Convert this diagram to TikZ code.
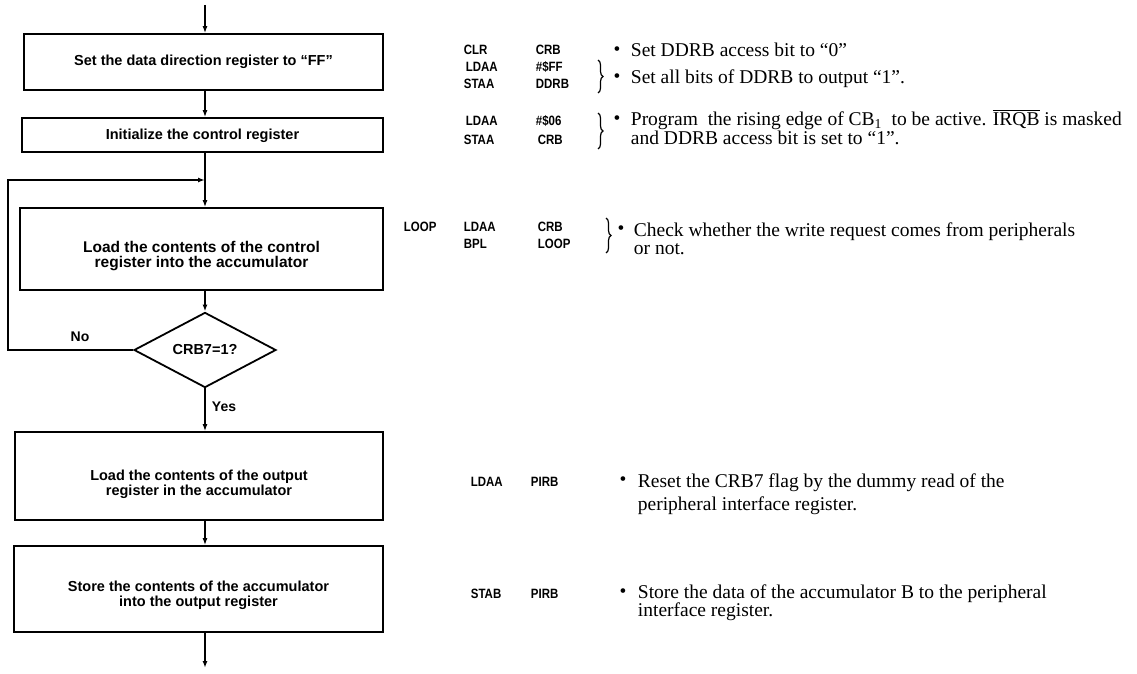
\documentclass[tikz,border=0pt]{standalone}
\usepackage{fontspec}
\setmainfont{Liberation Serif}
\newfontfamily\boxfont{Liberation Sans}
\newfontfamily\codefont{Liberation Sans}[FakeStretch=0.85]
\usetikzlibrary{arrows.meta,shapes.geometric,decorations.pathreplacing,calc}
\begin{document}
\begin{tikzpicture}[x=1pt,y=-1pt,line width=1.8pt,
  flowbox/.style={draw,rectangle,inner sep=0pt},
  boxtext/.style={inner sep=0pt,align=center,
    font=\boxfont\bfseries\fontsize{14.5}{15}\selectfont},
  decision/.style={draw,diamond,inner sep=0pt,
    font=\boxfont\bfseries\fontsize{14.5}{15}\selectfont},
  lbl/.style={inner sep=0pt,font=\boxfont\bfseries\fontsize{14}{15}\selectfont},
  code/.style={inner sep=0pt,anchor=base west,font=\codefont\bfseries\fontsize{13.5}{14}\selectfont},
  note/.style={inner sep=0pt,anchor=base west,align=left,font=\fontsize{19.5}{18}\selectfont},
  dot/.style={inner sep=0pt,font=\fontsize{19.5}{18}\selectfont},
  arr/.style={-{Latex[length=7pt,width=5pt]}},
  bracestyle/.style={decorate,decoration={brace,amplitude=5pt},line width=1.2pt}]
\useasboundingbox (0,0) rectangle (1137,674);
\fill[white] (0,0) rectangle (1137,674);

% flowchart boxes
\node[flowbox,minimum width=359pt,minimum height=56pt] (b1) at (203.5,62) {};
\node[boxtext] (b1t) at (b1.center) {Set the data direction register to “FF”};
\node[flowbox,minimum width=361pt,minimum height=34pt] (b2) at (202.5,135) {};
\node[boxtext] (b2t) at ([yshift=-1pt]b2.center) {Initialize the control register};
\node[flowbox,minimum width=363pt,minimum height=82pt] (b3) at (201.5,249) {};
\node[boxtext,font=\boxfont\bfseries\fontsize{15.5}{15}\selectfont] (b3t) at ([yshift=-7pt]b3.center)
  {Load the contents of the control\\register into the accumulator};
\node[decision,minimum width=142pt,minimum height=56pt] (dia) at (205,350)
  {CRB7=1?};
\node[flowbox,minimum width=368pt,minimum height=88pt] (b4) at (199,476) {};
\node[boxtext] (b4t) at ([yshift=-8pt]b4.center)
  {Load the contents of the output\\register in the accumulator};
\node[flowbox,minimum width=369pt,minimum height=86pt] (b5) at (198.5,589) {};
\node[boxtext] (b5t) at ([yshift=-6pt]b5.center)
  {Store the contents of the accumulator\\into the output register};

\node[lbl] (no) at (80,337) {No};
\node[lbl] (yes) at (224,407) {Yes};

% connectors
\coordinate (axis) at (205,0);
\coordinate (start) at (205,5);
\coordinate (finish) at (205,668);
\coordinate (junc) at (205,180);
\coordinate (corner) at (8,180);
\draw[arr] (start) -- (start |- b1.north);
\draw[arr] (b1.south -| axis) -- (b2.north -| axis);
\draw[arr] (b2.south -| axis) -- (b3.north -| axis);
\draw[arr] (dia.west) -- (dia.west -| corner) -- (corner) -- (junc);
\draw[arr] (b3.south -| axis) -- (dia.north);
\draw[arr] (dia.south) -- (dia.south |- b4.north);
\draw[arr] (b4.south -| axis) -- (b5.north -| axis);
\draw[arr] (b5.south -| axis) -- (finish);

% program listing
\node[code] (c1a) at (463,55) {CLR};
\node[code] (c1b) at (535,55) {CRB};
\node[code] (c2a) at (465,72) {LDAA};
\node[code] (c2b) at (535,72) {\#\$FF};
\node[code] (c3a) at (463,89) {STAA};
\node[code] (c3b) at (535,89) {DDRB};
\coordinate (br1t) at (598,60);
\coordinate (br1b) at (598,93);
\draw[bracestyle] (br1t) -- (br1b);

\node[code] (c4a) at (465,126) {LDAA};
\node[code] (c4b) at (535,126) {\#\$06};
\node[code] (c5a) at (463,144) {STAA};
\node[code] (c5b) at (537,144) {CRB};
\coordinate (br2t) at (598,113);
\coordinate (br2b) at (598,149);
\draw[bracestyle] (br2t) -- (br2b);

\node[code] (c6l) at (403,231) {LOOP};
\node[code] (c6a) at (463,231) {LDAA};
\node[code] (c6b) at (537,231) {CRB};
\node[code] (c7a) at (463,248) {BPL};
\node[code] (c7b) at (537,248) {LOOP};
\coordinate (br3t) at (606,218);
\coordinate (br3b) at (606,253);
\draw[bracestyle] (br3t) -- (br3b);

\node[code] (c8a) at (470,486) {LDAA};
\node[code] (c8b) at (530,486) {PIRB};
\node[code] (c9a) at (470,598) {STAB};
\node[code] (c9b) at (530,598) {PIRB};

% notes
\node[dot] (d1) at (617,51) {\textbullet};
\node[note] (n1) at (630,57) {Set DDRB access bit to “0”};
\node[dot] (d2) at (617,78) {\textbullet};
\node[note] (n2) at (630,84) {Set all bits of DDRB to output “1”.};
\node[dot] (d3) at (617,120) {\textbullet};
\node[note] (n3) at (630,145) {Program\ \ the rising edge of CB\textsubscript{1}\ \ to be active. $\overline{\hbox{IRQB}}$ is masked\\[2pt]and DDRB access bit is set to “1”.};
\node[dot] (d4) at (621,230) {\textbullet};
\node[note] (n4) at (633,254) {Check whether the write request comes from peripherals\\or not.};
\node[dot] (d5) at (623,481) {\textbullet};
\node[note] (n5) at (637,510) {Reset the CRB7 flag by the dummy read of the\\[5pt]peripheral interface register.};
\node[dot] (d6) at (623,593) {\textbullet};
\node[note] (n6) at (637,616) {Store the data of the accumulator B to the peripheral\\interface register.};
\end{tikzpicture}
\end{document}
